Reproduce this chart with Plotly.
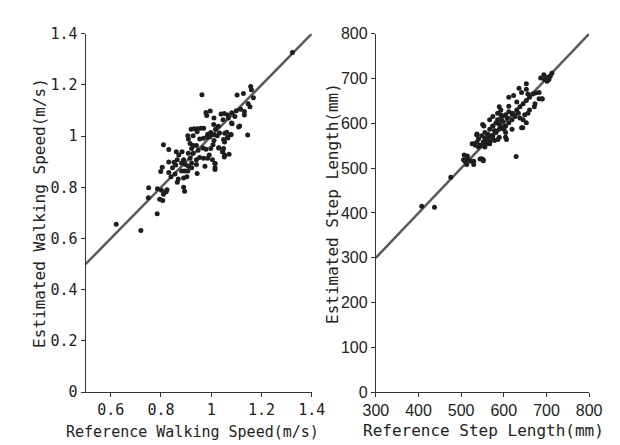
import plotly.graph_objects as go

# ---- Walking speed (m/s) ----
speed_ref = [
    0.979, 0.996, 0.982, 1.011, 1.039, 1.052, 1.066, 1.082, 1.100, 1.047, 1.068, 1.083, 1.109, 1.010, 1.028, 1.017,
    0.920, 0.932, 0.945, 0.958, 0.970, 0.907, 0.909, 0.928, 0.944, 0.986, 0.998, 1.011, 1.024, 1.033, 1.054, 1.078,
    1.066, 1.049, 0.954, 0.969, 0.982, 0.995, 1.011, 1.007, 0.916, 0.928, 0.941, 0.922, 0.948, 0.967, 0.979, 0.998,
    1.030, 1.045, 1.053, 1.071, 1.049, 0.810, 0.831, 0.861, 0.884, 0.871, 0.909, 0.928, 0.954, 0.970, 0.986, 0.992,
    1.005, 1.015, 1.015, 0.975, 0.941, 0.916, 0.890, 0.831, 0.852, 0.865, 0.859, 0.882, 0.897, 0.909, 0.922, 0.941,
    0.894, 0.907, 0.882, 0.944, 0.922, 0.805, 0.799, 0.846, 0.831, 0.840, 0.856, 0.869, 0.890, 0.903, 0.865, 0.890,
    0.894, 0.751, 0.786, 0.802, 0.824, 0.810, 0.821, 0.795,
    0.622, 0.720, 0.750, 0.785, 0.807, 1.323, 0.963,
    1.157, 1.160, 1.128, 1.103, 1.168, 1.147, 1.154, 1.117, 1.132, 1.132, 1.113, 1.145, 1.094, 1.081, 1.062,
    1.079, 1.065, 1.053, 1.030, 1.046, 1.052, 1.015, 1.015,
]
speed_est = [
    1.093, 1.098, 1.081, 1.071, 1.087, 1.089, 1.083, 1.092, 1.099, 1.064, 1.071, 1.049, 1.036, 1.046, 1.039, 1.027,
    1.027, 1.029, 1.029, 1.031, 1.031, 1.002, 0.989, 1.002, 1.017, 1.008, 1.014, 1.006, 1.002, 1.012, 1.011, 1.006,
    0.993, 0.987, 0.989, 0.992, 0.996, 0.998, 0.983, 0.967, 0.971, 0.964, 0.964, 0.952, 0.945, 0.954, 0.949, 0.952,
    0.954, 0.939, 0.927, 0.929, 0.952, 0.967, 0.948, 0.939, 0.939, 0.927, 0.933, 0.933, 0.917, 0.914, 0.914, 0.927,
    0.908, 0.893, 0.870, 0.883, 0.908, 0.914, 0.908, 0.899, 0.898, 0.908, 0.887, 0.895, 0.889, 0.883, 0.895, 0.889,
    0.864, 0.864, 0.864, 0.854, 0.877, 0.879, 0.862, 0.877, 0.858, 0.842, 0.852, 0.833, 0.837, 0.842, 0.820, 0.801,
    0.785, 0.799, 0.795, 0.789, 0.791, 0.773, 0.783, 0.754,
    0.656, 0.632, 0.760, 0.697, 0.749, 1.327, 1.162,
    1.194, 1.181, 1.167, 1.161, 1.150, 1.127, 1.115, 1.105, 1.096, 1.083, 1.040, 1.005, 1.077, 1.052, 1.015,
    1.007, 0.996, 0.977, 0.955, 0.939, 0.919, 0.893, 0.877,
]

# ---- Step length (mm) ----
step_ref = [
    407.6, 437.5, 475.6, 505.5, 514.5, 513.0, 529.4, 529.4, 544.4, 551.8, 510.7, 525.7, 533.1, 540.6, 548.1, 555.6,
    536.9, 559.3, 566.8, 555.6, 574.3, 563.0, 581.7, 553.3, 574.3, 589.2, 600.4, 566.8, 585.5, 604.1,
    507.0, 514.5, 508.6, 522.0, 548.2, 551.9, 628.9, 529.5, 537.0, 544.4, 551.9, 559.4, 537.0, 555.7, 566.9, 574.3,
    581.8, 589.3, 596.8, 559.4, 570.6, 581.8, 589.3, 596.8, 604.2, 611.7, 619.2, 622.9, 630.4, 637.9, 645.3, 652.8,
    660.3, 667.8, 574.3, 585.5, 593.0, 589.3, 611.7, 611.7, 622.9, 635.6, 652.8, 630.4, 645.3, 652.8, 641.6, 619.2,
    604.2, 589.3, 574.3, 682.7, 690.2, 682.7, 686.5, 695.4, 702.9, 708.9, 701.4, 671.5, 673.0, 660.3, 649.0, 656.5,
    611.7, 604.2, 596.8, 608.0, 619.2, 626.6, 634.1, 637.9, 540.7, 548.2, 563.1, 566.9, 578.1, 578.1, 593.0, 656.5,
    641.6, 652.8, 674.4, 689.4, 705.8, 693.9, 712.6, 644.5, 586.0, 606.4, 550.4, 537.0,
]
step_est = [
    415.0, 412.9, 479.5, 518.8, 527.4, 508.0, 515.3, 508.0, 520.3, 518.8, 515.3, 554.6, 551.0, 547.5, 551.0, 547.5,
    574.0, 554.6, 558.2, 565.4, 572.5, 576.0, 583.2, 594.0, 594.0, 597.6, 586.8, 608.3, 608.3, 569.0,
    529.6, 522.4, 515.3, 515.3, 521.0, 516.7, 526.0, 554.6, 558.2, 551.0, 558.2, 554.6, 576.1, 579.7, 586.9, 594.0,
    601.2, 608.3, 615.5, 569.0, 572.5, 579.7, 586.9, 590.4, 594.0, 601.2, 608.3, 619.1, 629.8, 636.9, 644.1, 651.3,
    658.4, 665.6, 615.5, 622.6, 629.8, 636.9, 638.3, 658.4, 662.0, 678.4, 688.5, 647.7, 608.3, 601.2, 590.4, 586.9,
    579.7, 569.0, 565.4, 669.1, 654.8, 654.8, 701.3, 697.8, 702.8, 705.0, 694.2, 636.9, 644.1, 629.8, 619.1, 622.6,
    626.2, 619.1, 604.7, 611.9, 622.6, 615.5, 622.6, 611.9, 565.4, 572.5, 565.4, 554.6, 561.8, 583.3, 619.1, 665.6,
    669.1, 676.3, 667.6, 654.7, 697.7, 708.4, 712.0, 590.3, 563.9, 563.9, 597.5, 574.6,
]

speed_line = [0.5, 1.4]
step_line = [300, 800]

speed_ticks = [0.6, 0.8, 1.0, 1.2, 1.4]
speed_ticktext = ["0.6", "0.8", "1", "1.2", "1.4"]
speed_yticks = [0, 0.2, 0.4, 0.6, 0.8, 1.0, 1.2, 1.4]
speed_yticktext = ["0", "0.2", "0.4", "0.6", "0.8", "1", "1.2", "1.4"]
step_xticks = [300, 400, 500, 600, 700, 800]
step_yticks = [0, 100, 200, 300, 400, 500, 600, 700, 800]

W, H = 620, 445
MONO = "DejaVu Sans Mono, Liberation Mono, monospace"
SANS = "Liberation Sans Narrow, Liberation Sans, Arial, sans-serif"
TXT = "#222222"
LINE = "#5a5a5a"
DOT = "#1e1e1e"

fig = go.Figure()
fig.add_trace(go.Scatter(x=speed_line, y=speed_line, mode="lines",
                         line=dict(color=LINE, width=2.5), xaxis="x", yaxis="y", showlegend=False))
fig.add_trace(go.Scatter(x=speed_ref, y=speed_est, mode="markers",
                         marker=dict(color=DOT, size=5), xaxis="x", yaxis="y", showlegend=False))
fig.add_trace(go.Scatter(x=step_line, y=step_line, mode="lines",
                         line=dict(color=LINE, width=2.5), xaxis="x2", yaxis="y2", showlegend=False))
fig.add_trace(go.Scatter(x=step_ref, y=step_est, mode="markers",
                         marker=dict(color=DOT, size=5), xaxis="x2", yaxis="y2", showlegend=False))

ydom = [1 - 391 / H, 1 - 17.5 / H]
axis_common = dict(showgrid=False, zeroline=False, showline=True, linecolor="#333333", linewidth=1,
                   ticks="outside", ticklen=4, tickcolor="#333333", mirror=False)

fig.update_layout(
    width=W, height=H,
    margin=dict(l=0, r=0, t=0, b=0),
    paper_bgcolor="white", plot_bgcolor="white",
    xaxis=dict(domain=[67.5 / W, 304 / W], range=[0.5, 1.4], anchor="y",
               tickvals=speed_ticks, ticktext=speed_ticktext,
               tickfont=dict(family=MONO, size=15, color=TXT), **axis_common),
    yaxis=dict(domain=ydom, range=[0, 1.4], anchor="x",
               tickvals=speed_yticks, ticktext=speed_yticktext,
               tickfont=dict(family=MONO, size=15, color=TXT), **axis_common),
    xaxis2=dict(domain=[371 / W, 594 / W], range=[300, 800], anchor="y2",
                tickvals=step_xticks,
                tickfont=dict(family=SANS, size=16, color=TXT), **axis_common),
    yaxis2=dict(domain=ydom, range=[0, 800], anchor="x2",
                tickvals=step_yticks,
                tickfont=dict(family=SANS, size=16, color=TXT), **axis_common),
)

ann_font = dict(family=MONO, size=16, color=TXT)
ann_font_small = dict(family=MONO, size=15, color=TXT)
fig.add_annotation(text="Estimated Walking Speed(m/s)", xref="paper", yref="paper",
                   x=20 / W, y=1 - 204 / H, textangle=-90, showarrow=False, font=ann_font,
                   xanchor="center", yanchor="middle")
fig.add_annotation(text="Reference Walking Speed(m/s)", xref="paper", yref="paper",
                   x=179 / W, y=1 - 432 / H, showarrow=False, font=ann_font_small,
                   xanchor="center", yanchor="middle")
fig.add_annotation(text="Estimated Step Length(mm)", xref="paper", yref="paper",
                   x=325 / W, y=1 - 194 / H, textangle=-90, showarrow=False, font=ann_font,
                   xanchor="center", yanchor="middle")
fig.add_annotation(text="Reference Step Length(mm)", xref="paper", yref="paper",
                   x=484 / W, y=1 - 431 / H, showarrow=False, font=ann_font,
                   xanchor="center", yanchor="middle")

fig.write_html("out.html")
